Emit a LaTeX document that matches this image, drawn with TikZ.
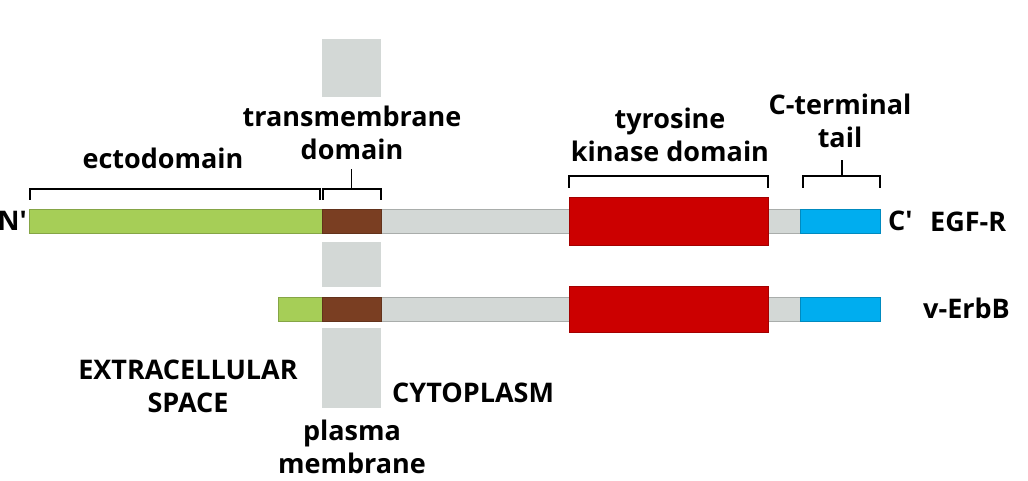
\documentclass[tikz,border=0pt]{standalone}
\usepackage{fontspec}
\setmainfont{Open Sans}
\definecolor{ectocolor}{HTML}{A6CE57}
\definecolor{tmcolor}{HTML}{7A3E22}
\definecolor{linkcolor}{HTML}{D3D8D6}
\definecolor{kinasecolor}{HTML}{CC0000}
\definecolor{tailcolor}{HTML}{00ADEF}
\tikzset{
  seg/.style={draw=#1!80!black, fill=#1, line width=0.6pt, inner sep=0pt, outer sep=0pt, anchor=west, minimum height=24pt},
  kin/.style={seg=kinasecolor, minimum width=199pt},
  membr/.style={fill=linkcolor, draw=none, inner sep=0pt, outer sep=0pt, minimum width=59pt, anchor=north west},
  brack/.style={line width=1.8pt},
  lbl/.style={inner sep=0pt, align=center, font=\fontsize{27}{33}\selectfont\bfseries}
}
\begin{document}
\begin{tikzpicture}[x=1pt,y=1pt]
  \useasboundingbox (0,0) rectangle (1028,480);
  % plasma membrane pieces
  \node [membr, minimum height=58pt] (memA) at (322,441) {};
  \node [membr, minimum height=45pt] (memB) at (322,238) {};
  \node [membr, minimum height=80pt] (memC) at (322,152) {};
  % EGF-R
  \node [seg=linkcolor, minimum width=419pt] (egfLink) at (381,259) {};
  \node [seg=ectocolor, minimum width=293pt] (egfEcto) at (29,259) {};
  \node [seg=tmcolor, minimum width=59pt] (egfTM) at (322,259) {};
  \node [kin, minimum height=48pt] (egfKin) at (569,259) {};
  \node [seg=tailcolor, minimum width=80pt] (egfCt) at (800,259) {};
  % v-ErbB
  \node [seg=linkcolor, minimum width=419pt] (erbLink) at (381,171) {};
  \node [seg=ectocolor, minimum width=44pt] (erbEcto) at (278,171) {};
  \node [seg=tmcolor, minimum width=59pt] (erbTM) at (322,171) {};
  \node [kin, minimum height=46pt] (erbKin) at (569,171) {};
  \node [seg=tailcolor, minimum width=80pt] (erbCt) at (800,171) {};
  % brackets
  \draw [brack] ([yshift=9pt,xshift=1pt]egfEcto.north west) -- ++(0,11) -| ([yshift=9pt,xshift=-2pt]egfEcto.north east);
  \draw [brack] ([yshift=9pt,xshift=1pt]egfTM.north west) -- ++(0,11) -| ([yshift=9pt]egfTM.north east);
  \draw [brack] ([yshift=20pt]egfTM.north) -- ++(0,20);
  \draw [brack] ([yshift=9pt]egfKin.north west) -- ++(0,12) -| ([yshift=9pt]egfKin.north east);
  \draw [brack] ([yshift=21pt,xshift=3pt]egfCt.north west) -- ++(0,12) -| ([yshift=21pt]egfCt.north east);
  \draw [brack] ([yshift=33pt,xshift=2pt]egfCt.north) -- ++(0,16);
  % labels
  \node [lbl] (ectoLbl) at (163,322) {ectodomain};
  \node [lbl] (tmLbl) at (352,347) {transmembrane\\domain};
  \node [lbl] (kinLbl) at (670,345) {tyrosine\\kinase domain};
  \node [lbl] (ctLbl) at (840,359) {C-terminal\\tail};
  \node [lbl, anchor=east] (nEnd) at (27,259) {N′};
  \node [lbl, anchor=west] (cEnd) at (888,259) {C′};
  \node [lbl, anchor=west] (egfName) at (930,258) {EGF-R};
  \node [lbl, anchor=west] (erbName) at (923,172) {v-ErbB};
  \node [lbl] (extraLbl) at (188,94) {EXTRACELLULAR\\SPACE};
  \node [lbl, anchor=west] (cytoLbl) at (392,87) {CYTOPLASM};
  \node [lbl] (pmLbl) at (352,33) {plasma\\membrane};
\end{tikzpicture}
\end{document}
